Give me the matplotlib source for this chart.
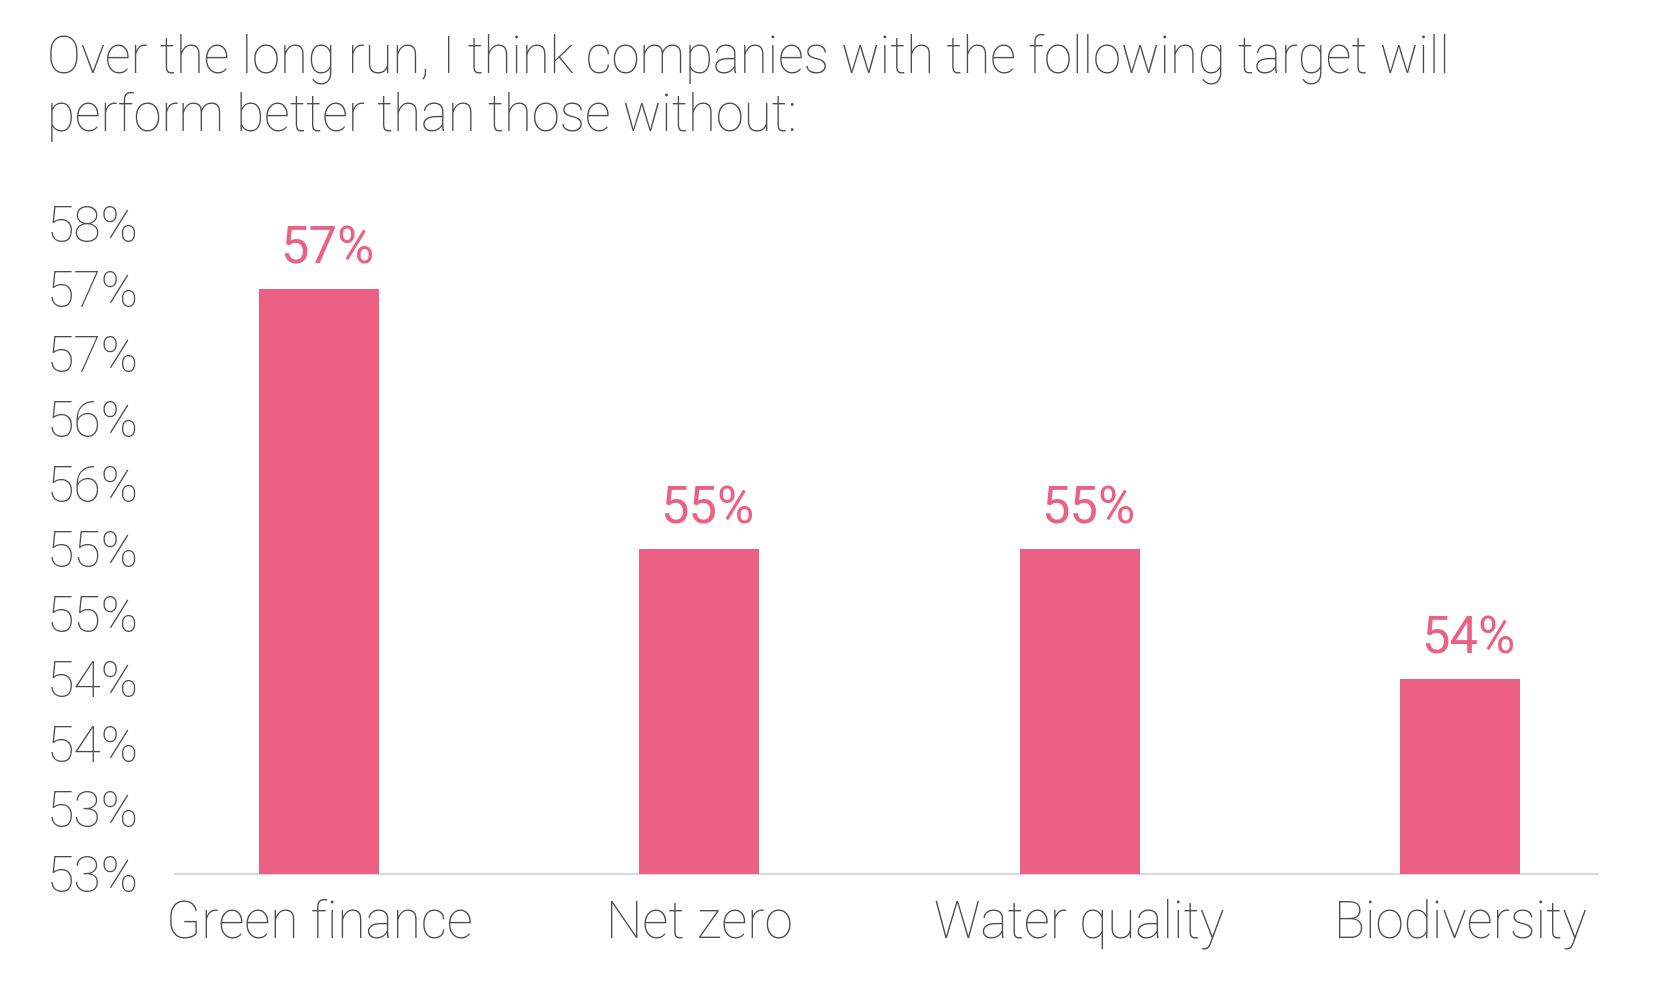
import matplotlib
matplotlib.use("Agg")
import matplotlib.pyplot as plt

categories = ["Green finance", "Net zero", "Water quality", "Biodiversity"]
values = [57.5, 55.5, 55.5, 54.5]
value_labels = ["57%", "55%", "55%", "54%"]
y_ticks = [53, 53.5, 54, 54.5, 55, 55.5, 56, 56.5, 57, 57.5, 58]
y_tick_labels = ["53%", "53%", "54%", "54%", "55%", "55%",
                 "56%", "56%", "57%", "57%", "58%"]

BAR_COLOR = "#ec6083"
TEXT_COLOR = "#4d4d4d"
W, H = 1653, 993

plt.rcParams["font.family"] = ["Roboto", "DejaVu Sans"]
plt.rcParams["font.weight"] = "light"

fig = plt.figure(figsize=(W / 100, H / 100), dpi=100)
ax = fig.add_axes([175 / W, (H - 873.5) / H, (1598 - 175) / W, (873.5 - 223.5) / H])

x = list(range(len(categories)))
ax.bar(x, values, width=0.316, bottom=0, color=BAR_COLOR, zorder=2)
# value labels sit a little right of the bar centre in the original
for xi, v, lab in zip(x, values, value_labels):
    ax.annotate(lab, (xi, v), xytext=(6, 10), textcoords="offset points",
                ha="center", va="bottom", fontsize=36.5, color=BAR_COLOR,
                fontweight="normal", annotation_clip=False)

ax.set_ylim(53, 58)
ax.set_xlim(-0.379, 3.363)
ax.set_yticks(y_ticks)
ax.set_yticklabels(y_tick_labels)
ax.set_xticks(x)
ax.set_xticklabels(categories)
ax.tick_params(axis="y", length=0, pad=26, labelsize=36, labelcolor=TEXT_COLOR)
ax.tick_params(axis="x", length=0, pad=18, labelsize=37, labelcolor=TEXT_COLOR)

for side in ["top", "right", "left"]:
    ax.spines[side].set_visible(False)
ax.spines["bottom"].set_color("#d9d9d9")
ax.spines["bottom"].set_linewidth(1.5)
ax.spines["bottom"].set_zorder(1)

fig.text(47 / W, 1 - 33 / H,
         "Over the long run, I think companies with the following target will\n"
         "perform better than those without:",
         ha="left", va="top", fontsize=36.6, color=TEXT_COLOR, linespacing=1.2)

fig.savefig("out.png", dpi=100, facecolor="white")
